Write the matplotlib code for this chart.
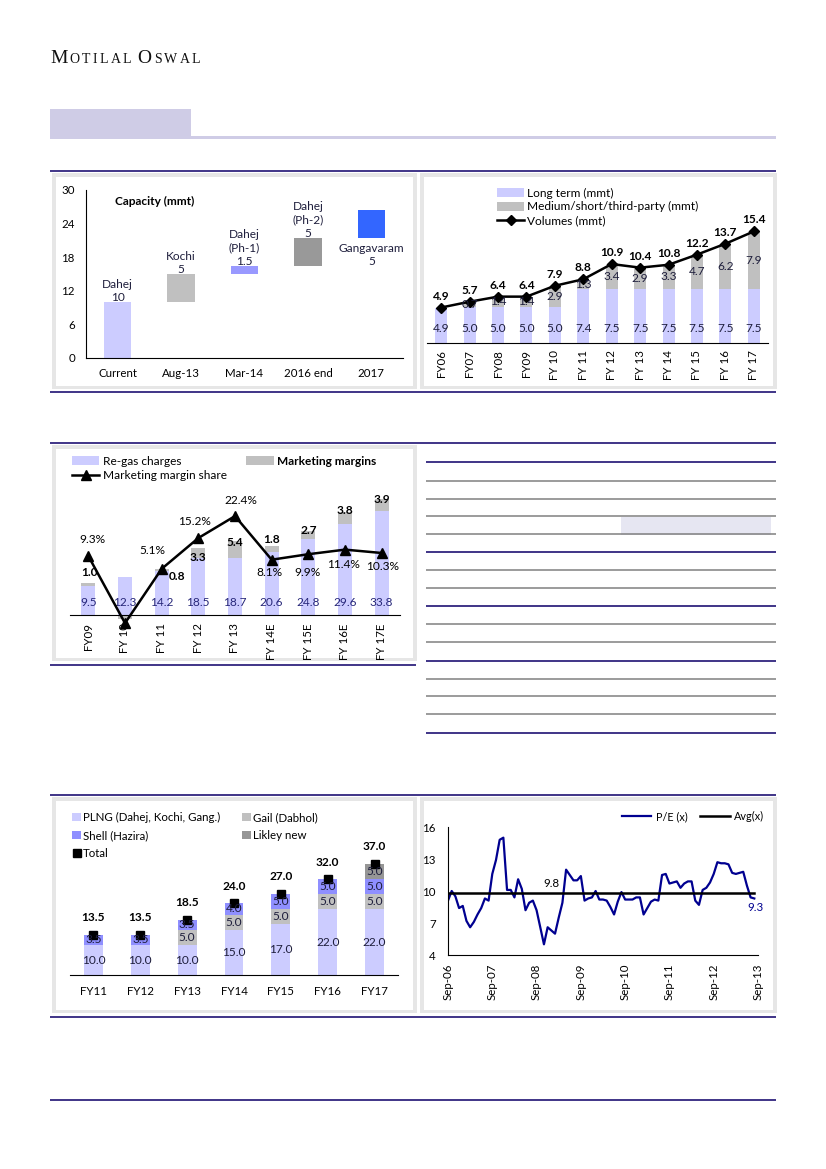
import numpy as np
import matplotlib
matplotlib.use('Agg')
import matplotlib.pyplot as plt
from matplotlib.patches import Rectangle, Patch
from matplotlib.lines import Line2D

plt.rcParams['font.family'] = ['Lato', 'DejaVu Sans']
plt.rcParams['font.size'] = 8.3

W, H = 826, 1169
NAVY = '#1F1273'
LAV = '#CCCCFF'
GREY = '#C0C0C0'
MIDBLUE = '#9999FF'
DGREY = '#969696'
TXT = '#1E1E3C'
FS = 8.6  # data labels

# --- capacity build-up (mmt)
cap_cats = ['Current', 'Aug-13', 'Mar-14', '2016 end', '2017']
cap_names = ['Dahej', 'Kochi', 'Dahej\n(Ph-1)', 'Dahej\n(Ph-2)', 'Gangavaram']
cap_add = [10, 5, 1.5, 5, 5]
cap_colors = [LAV, GREY, MIDBLUE, '#999999', '#3366FF']

# --- volumes (mmt)
vol_years = ['FY06', 'FY07', 'FY08', 'FY09', 'FY 10', 'FY 11', 'FY 12', 'FY 13',
             'FY 14', 'FY 15', 'FY 16', 'FY 17']
long_term = [4.9, 5.0, 5.0, 5.0, 5.0, 7.4, 7.5, 7.5, 7.5, 7.5, 7.5, 7.5]
medium = [0.0, 0.7, 1.4, 1.4, 2.9, 1.3, 3.4, 2.9, 3.3, 4.7, 6.2, 7.9]
volumes = [4.9, 5.7, 6.4, 6.4, 7.9, 8.8, 10.9, 10.4, 10.8, 12.2, 13.7, 15.4]

# --- re-gas vs marketing margins
mm_years = ['FY09', 'FY 10', 'FY 11', 'FY 12', 'FY 13', 'FY 14E', 'FY 15E', 'FY 16E', 'FY 17E']
regas = [9.5, 12.3, 14.2, 18.5, 18.7, 20.6, 24.8, 29.6, 33.8]
mkt_margin = [1.0, -1.4, 0.8, 3.3, 5.4, 1.8, 2.7, 3.8, 3.9]
mkt_share = [9.3, -12.7, 5.1, 15.2, 22.4, 8.1, 9.9, 11.4, 10.3]

# --- India LNG capacity by player (mmt)
cap_years = ['FY11', 'FY12', 'FY13', 'FY14', 'FY15', 'FY16', 'FY17']
plng = [10.0, 10.0, 10.0, 15.0, 17.0, 22.0, 22.0]
gail = [0.0, 0.0, 5.0, 5.0, 5.0, 5.0, 5.0]
shell = [3.5, 3.5, 3.5, 4.0, 5.0, 5.0, 5.0]
likley = [0.0, 0.0, 0.0, 0.0, 0.0, 0.0, 5.0]
total_cap = [13.5, 13.5, 18.5, 24.0, 27.0, 32.0, 37.0]

# --- one-year forward P/E, monthly Sep-06 .. Aug-13
pe_ticks = ['Sep-06', 'Sep-07', 'Sep-08', 'Sep-09', 'Sep-10', 'Sep-11', 'Sep-12', 'Sep-13']
pe = [9.1, 10.0, 9.5, 8.4, 8.6, 7.2, 6.6, 7.1, 7.8, 8.4, 9.3, 9.1,
      11.6, 12.9, 14.8, 15.0, 10.1, 10.1, 9.4, 11.1, 10.2, 8.2, 8.9, 9.1,
      8.2, 6.6, 5.0, 6.6, 6.3, 6.0, 7.5, 8.9, 12.0, 11.5, 11.0, 11.0,
      11.4, 9.1, 9.3, 9.4, 10.0, 9.2, 9.2, 9.1, 8.5, 7.8, 9.0, 9.9,
      9.2, 9.2, 9.2, 9.4, 9.4, 7.8, 8.4, 9.0, 9.2, 9.1, 11.5, 11.6,
      10.7, 10.8, 10.9, 10.3, 10.7, 10.9, 10.9, 9.1, 8.7, 10.1, 10.3, 10.8,
      11.6, 12.7, 12.6, 12.6, 12.5, 11.7, 11.6, 11.7, 11.8, 10.5, 9.4, 9.3]
pe_avg = 9.8

fig = plt.figure(figsize=(W / 100, H / 100), dpi=100)
fig.patch.set_facecolor('white')

# page furniture drawn in pixel coords
bg = fig.add_axes([0, 0, 1, 1])
bg.set_xlim(0, W)
bg.set_ylim(H, 0)
bg.axis('off')
bg.set_zorder(-1)


def px_axes(l, t, r, b):
    ax = fig.add_axes([l / W, 1 - b / H, (r - l) / W, (b - t) / H])
    ax.patch.set_alpha(0)
    for s in ['top', 'right']:
        ax.spines[s].set_visible(False)
    ax.tick_params(length=0, colors='black')
    return ax


def panel(x0, y0, x1, y1):
    bg.add_patch(Rectangle((x0, y0), x1 - x0, y1 - y0, fc='#E6E6E6', ec='none'))
    bg.add_patch(Rectangle((x0 + 4, y0 + 4), x1 - x0 - 8, y1 - y0 - 7, fc='white', ec='none'))


def hline(y, x0, x1, c=NAVY, lw=1.2):
    bg.plot([x0, x1], [y, y], color=c, lw=lw, solid_capstyle='butt')


# header
bg.add_patch(Rectangle((50, 109), 141, 27, fc='#CFCCE6', ec='none'))
bg.add_patch(Rectangle((50, 135.5), 726, 3, fc='#CFCCE6', ec='none'))
r = fig.canvas.get_renderer()
xpos = 50
for word in ['MOTILAL', 'OSWAL']:
    for j, ch in enumerate(word):
        t = bg.text(xpos, 63, ch, fontsize=14 if j == 0 else 10, family='Liberation Serif',
                    va='baseline', ha='left', color='#111111')
        xpos += t.get_window_extent(r).width + 2.3
    xpos += 4

for y in [171, 392, 443, 795, 1017, 1100]:
    hline(y, 50, 776)
hline(665, 50, 416)

panel(52, 173, 417, 389)
panel(420, 173, 777, 389)
panel(52, 445, 417, 661)
panel(52, 797, 417, 1013)
panel(420, 797, 777, 1013)

# empty table on the right
bg.add_patch(Rectangle((621, 517), 150, 17.5, fc='#E6E6F2', ec='none'))
for y in [481, 499, 516, 534, 570, 588, 624, 642, 679, 696, 714]:
    hline(y, 426, 776, c='#808080', lw=1.1)
for y in [462, 552, 606, 661, 733]:
    hline(y, 426, 776)

# ---------- chart 1: capacity
ax1 = px_axes(86, 190, 403, 358)
x1 = np.arange(len(cap_cats))
cap_base = np.concatenate([[0], np.cumsum(cap_add)[:-1]])
ax1.bar(x1, cap_add, bottom=cap_base, width=0.43, color=cap_colors)
for i in range(len(cap_cats)):
    txt = f'{cap_names[i]}\n{cap_add[i]:g}'
    if i < len(cap_cats) - 1:
        ax1.annotate(txt, (i, cap_base[i] + cap_add[i]), xytext=(0, -1), textcoords='offset pixels',
                     ha='center', va='bottom', fontsize=FS, linespacing=1.25, color=TXT)
    else:
        ax1.annotate(txt, (i, cap_base[i]), xytext=(0, -5), textcoords='offset pixels',
                     ha='center', va='top', fontsize=FS, linespacing=1.25, color=TXT)
ax1.set_xlim(-0.5, 4.5)
ax1.set_ylim(0, 30)
ax1.set_yticks(range(0, 31, 6))
ax1.set_xticks(x1, cap_cats)
ax1.tick_params(axis='y', pad=8)
ax1.tick_params(axis='x', pad=7)
ax1.text(0.09, 0.93, 'Capacity (mmt)', transform=ax1.transAxes, fontweight='bold',
         fontsize=FS, va='center')

# ---------- chart 2: volumes
ax2 = px_axes(427, 180, 768, 343)
ax2.spines['left'].set_visible(False)
x2 = np.arange(len(vol_years))
lt = np.array(long_term)
md = np.array(medium)
ax2.bar(x2, lt, width=0.42, color=LAV)
ax2.bar(x2, md, bottom=lt, width=0.42, color=GREY)
ax2.plot(x2, volumes, color='black', lw=1.8, marker='D', ms=5.5, zorder=3)
for i in range(len(vol_years)):
    ax2.annotate(f'{lt[i]:.1f}', (i, 0), xytext=(0, 15), textcoords='offset pixels',
                 ha='center', va='center', color=TXT, fontsize=FS)
    if md[i] > 0:
        ax2.text(i, lt[i] + md[i] / 2, f'{md[i]:.1f}', ha='center', va='center', color=TXT, fontsize=FS)
    ax2.annotate(f'{volumes[i]:.1f}', (i, volumes[i]), xytext=(0, 6), textcoords='offset pixels',
                 ha='center', va='bottom', fontweight='bold', fontsize=FS)
ax2.set_xlim(-0.5, len(vol_years) - 0.5)
ax2.set_ylim(0, 22.5)
ax2.set_yticks([])
ax2.set_xticks(x2, vol_years, rotation=90)
ax2.tick_params(axis='x', pad=5)
h2 = [Patch(fc=LAV), Patch(fc=GREY),
      Line2D([], [], color='black', lw=1.8, marker='D', ms=5.5)]
ax2.legend(h2, ['Long term (mmt)', 'Medium/short/third-party (mmt)', 'Volumes (mmt)'],
           loc='upper left', bbox_to_anchor=(497 / W, 1 - 188 / H), bbox_transform=fig.transFigure,
           frameon=False, borderpad=0, borderaxespad=0, handlelength=2.3, handleheight=0.8,
           handletextpad=0.25, labelspacing=0.2, fontsize=8.6)

# ---------- chart 3: re-gas vs marketing margins
ax3 = px_axes(70, 490, 400, 615)
ax3.spines['left'].set_visible(False)
x3 = np.arange(len(mm_years))
rg = np.array(regas)
mm = np.array(mkt_margin)
ax3.bar(x3, rg, width=0.38, color=LAV)
ax3.bar(x3, mm, bottom=np.where(mm > 0, rg, 0), width=0.38, color=GREY, clip_on=False)
mm_top = np.where(mm > 0, rg + mm, mm)
mm_off = [(1, 10), (-18, -4), (15, -8), (0, -9), (0, -2), (0, 7), (0, 0), (0, 2), (0, 0)]
for i in range(len(mm_years)):
    ax3.annotate(f'{rg[i]:.1f}', (i, 0), xytext=(0, 13), textcoords='offset pixels',
                 ha='center', va='center', color='#27277A', fontsize=FS)
    lab = f'{mm[i]:.1f}' if mm[i] > 0 else f'({-mm[i]:.1f})'
    ax3.annotate(lab, (i, mm_top[i]), xytext=mm_off[i], textcoords='offset pixels',
                 ha='center', va='center', fontweight='bold', fontsize=FS)
ax3.set_xlim(-0.5, len(mm_years) - 0.5)
ax3.set_ylim(0, 40.7)
ax3.set_yticks([])
ax3.set_xticks(x3, mm_years, rotation=90)
ax3.tick_params(axis='x', pad=6)
ax3b = ax3.twinx()
ax3b.set_axis_off()
ax3b.plot(x3, mkt_share, color='black', lw=1.8, marker='^', ms=7, clip_on=False)
ax3b.set_ylim(-10.03, 30.95)
sh_off = [(4, 17), (22, 1), (-9, 18), (-4, 17), (6, 16), (-2, -13), (-1, -18), (-1, -15), (1, -14)]
for i in range(len(mm_years)):
    ax3b.annotate(f'{mkt_share[i]:.1f}%', (i, mkt_share[i]), xytext=sh_off[i],
                  textcoords='offset pixels', ha='center', va='center', fontsize=FS)
h3 = [Patch(fc=LAV), Line2D([], [], color='black', lw=1.8, marker='^', ms=7), Patch(fc=GREY)]
lg3 = ax3b.legend(h3, ['Re-gas charges', 'Marketing margin share', 'Marketing margins'], ncol=2,
                  loc='upper left', bbox_to_anchor=(72 / W, 1 - 456 / H), bbox_transform=fig.transFigure,
                  frameon=False, borderpad=0, borderaxespad=0, handlelength=2.3, handleheight=0.8,
                  handletextpad=0.3, labelspacing=0.25, columnspacing=1.6, fontsize=8.6)
lg3.get_texts()[2].set_fontweight('bold')

# ---------- chart 5: capacity by player
ax5 = px_axes(70, 840, 398, 975)
ax5.spines['left'].set_visible(False)
x5 = np.arange(len(cap_years))
stack = [(plng, LAV), (gail, GREY), (shell, '#8F8FFF'), (likley, DGREY)]
bottom = np.zeros(len(cap_years))
for vals, c in stack:
    vals = np.array(vals)
    ax5.bar(x5, vals, bottom=bottom, width=0.4, color=c)
    for i, v in enumerate(vals):
        if v > 0:
            ax5.text(i, bottom[i] + v / 2, f'{v:.1f}', ha='center', va='center', fontsize=FS, color=TXT)
    bottom += vals
ax5.plot(x5, total_cap, 's', color='black', ms=6)
for i in range(len(cap_years)):
    ax5.annotate(f'{total_cap[i]:.1f}', (i, total_cap[i]), xytext=(0, 17), textcoords='offset pixels',
                 ha='center', va='center', fontweight='bold', fontsize=FS)
ax5.set_xlim(-0.5, len(cap_years) - 0.5)
ax5.set_ylim(0, 45)
ax5.set_yticks([])
ax5.set_xticks(x5, cap_years)
ax5.tick_params(axis='x', pad=8)
h5 = [Patch(fc=LAV), Patch(fc='#8F8FFF'), Line2D([], [], ls='none', marker='s', color='black', ms=6),
      Patch(fc=GREY), Patch(fc=DGREY)]
ax5.legend(h5, ['PLNG (Dahej, Kochi, Gang.)', 'Shell (Hazira)', 'Total', 'Gail (Dabhol)', 'Likley new'],
           ncol=2, loc='upper left', bbox_to_anchor=(72 / W, 1 - 812 / H), bbox_transform=fig.transFigure,
           frameon=False, borderpad=0, borderaxespad=0, handlelength=0.8, handleheight=0.8,
           handletextpad=0.15, labelspacing=0.6, columnspacing=1.9, fontsize=8.3)

# ---------- chart 6: P/E band
ax6 = px_axes(448, 827, 758, 955)
m6 = np.arange(len(pe))
ax6.plot(m6, pe, color='#000090', lw=1.6, label='P/E (x)')
ax6.plot(m6, np.full(len(pe), pe_avg), color='black', lw=1.8, label='Avg(x)')
ax6.annotate(f'{pe_avg:.1f}', (28, pe_avg), xytext=(0, 10), textcoords='offset pixels',
             ha='center', va='center', fontsize=8.3)
ax6.annotate(f'{pe[-1]:.1f}', (m6[-1], pe[-1]), xytext=(1, -9), textcoords='offset pixels',
             ha='center', va='center', fontsize=8.3, color='#000090')
ax6.set_xlim(0, 84)
ax6.set_ylim(4, 16)
ax6.set_yticks([4, 7, 10, 13, 16])
ax6.set_xticks(np.arange(0, 85, 12), pe_ticks, rotation=90)
ax6.tick_params(axis='y', pad=9)
ax6.tick_params(axis='x', pad=6)
ax6.legend(ncol=2, loc='upper left', bbox_to_anchor=(622 / W, 1 - 811 / H), bbox_transform=fig.transFigure,
           frameon=False, borderpad=0, borderaxespad=0, handlelength=2.7, handletextpad=0.4,
           columnspacing=1.2, fontsize=7.8)

fig.savefig('out.png', dpi=100)
